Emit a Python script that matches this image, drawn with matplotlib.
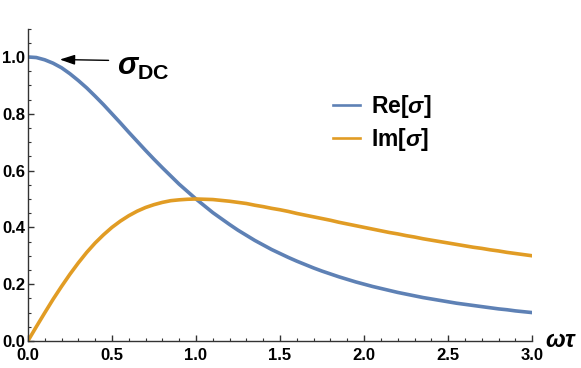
import numpy as np
import matplotlib
matplotlib.use("Agg")
import matplotlib.pyplot as plt
from matplotlib.ticker import MultipleLocator, FormatStrFormatter

plt.rcParams['font.family'] = ['Liberation Sans', 'DejaVu Sans']
plt.rcParams['font.weight'] = 'bold'
plt.rcParams['mathtext.fontset'] = 'custom'
plt.rcParams['mathtext.rm'] = 'Liberation Sans:bold'
plt.rcParams['mathtext.it'] = 'Liberation Sans:italic:bold'
plt.rcParams['mathtext.bf'] = 'Liberation Sans:bold'

# omega*tau samples
wt = [0.00, 0.05, 0.10, 0.15, 0.20, 0.25, 0.30, 0.35, 0.40, 0.45, 0.50,
      0.55, 0.60, 0.65, 0.70, 0.75, 0.80, 0.85, 0.90, 0.95, 1.00,
      1.05, 1.10, 1.15, 1.20, 1.25, 1.30, 1.35, 1.40, 1.45, 1.50,
      1.55, 1.60, 1.65, 1.70, 1.75, 1.80, 1.85, 1.90, 1.95, 2.00,
      2.05, 2.10, 2.15, 2.20, 2.25, 2.30, 2.35, 2.40, 2.45, 2.50,
      2.55, 2.60, 2.65, 2.70, 2.75, 2.80, 2.85, 2.90, 2.95, 3.00]
re_sigma = [1.000, 0.998, 0.990, 0.978, 0.962, 0.941, 0.917, 0.891, 0.862, 0.832, 0.800,
            0.768, 0.735, 0.703, 0.671, 0.640, 0.610, 0.581, 0.552, 0.526, 0.500,
            0.476, 0.452, 0.431, 0.410, 0.390, 0.372, 0.354, 0.338, 0.322, 0.308,
            0.294, 0.281, 0.269, 0.257, 0.246, 0.236, 0.226, 0.217, 0.208, 0.200,
            0.192, 0.185, 0.178, 0.171, 0.165, 0.159, 0.153, 0.148, 0.143, 0.138,
            0.133, 0.129, 0.125, 0.121, 0.117, 0.113, 0.110, 0.106, 0.103, 0.100]
im_sigma = [0.000, 0.050, 0.099, 0.147, 0.192, 0.235, 0.275, 0.312, 0.345, 0.374, 0.400,
            0.422, 0.441, 0.457, 0.470, 0.480, 0.488, 0.494, 0.497, 0.499, 0.500,
            0.499, 0.498, 0.495, 0.492, 0.488, 0.484, 0.478, 0.473, 0.467, 0.462,
            0.456, 0.449, 0.443, 0.437, 0.431, 0.425, 0.418, 0.412, 0.406, 0.400,
            0.394, 0.388, 0.382, 0.377, 0.371, 0.366, 0.360, 0.355, 0.350, 0.345,
            0.340, 0.335, 0.330, 0.326, 0.321, 0.317, 0.312, 0.308, 0.304, 0.300]

blue = '#5E81B5'
orange = '#E19C24'

fig = plt.figure(figsize=(5.81, 3.68), dpi=100)
ax = fig.add_axes([0.048, 0.0734, 0.868, 0.849])

ax.plot(wt, re_sigma, color=blue, lw=2.6, label=r'Re[$\sigma$]')
ax.plot(wt, im_sigma, color=orange, lw=2.6, label=r'Im[$\sigma$]')

ax.set_xlim(0, 3.0)
ax.set_ylim(0, 1.1)
ax.spines['top'].set_visible(False)
ax.spines['right'].set_visible(False)
for s in ('left', 'bottom'):
    ax.spines[s].set_linewidth(1.0)
    ax.spines[s].set_color('#333333')

ax.xaxis.set_major_locator(MultipleLocator(0.5))
ax.xaxis.set_minor_locator(MultipleLocator(0.1))
ax.yaxis.set_major_locator(MultipleLocator(0.2))
ax.yaxis.set_minor_locator(MultipleLocator(0.05))
ax.xaxis.set_major_formatter(FormatStrFormatter('%.1f'))
ax.yaxis.set_major_formatter(FormatStrFormatter('%.1f'))
ax.tick_params(which='major', direction='in', length=4.5, width=1.0, color='#333333',
               labelsize=12)
ax.tick_params(which='minor', direction='in', length=2.5, width=0.8, color='#333333')
ax.tick_params(axis='x', which='major', pad=5)
ax.tick_params(axis='y', which='major', pad=2)
for lbl in ax.get_xticklabels() + ax.get_yticklabels():
    lbl.set_fontweight('bold')

ax.text(1.026, 0.0, r'$\omega\tau$', transform=ax.transAxes, fontsize=17,
        ha='left', va='center')

ax.annotate('', xy=(0.19, 0.991), xytext=(0.48, 0.988),
            arrowprops=dict(arrowstyle='-|>,head_length=0.9,head_width=0.3',
                            color='black', lw=1.0, shrinkA=0, shrinkB=0))
ax.text(0.53, 0.965, r'$\sigma_{\mathrm{DC}}$', fontsize=22, ha='left', va='center')

leg = ax.legend(loc='upper left', bbox_to_anchor=(0.565, 0.86), frameon=False,
                fontsize=16.5, handlelength=1.15, handletextpad=0.5, labelspacing=0.28)
for line in leg.get_lines():
    line.set_linewidth(1.9)

fig.savefig('out.png', dpi=100)
